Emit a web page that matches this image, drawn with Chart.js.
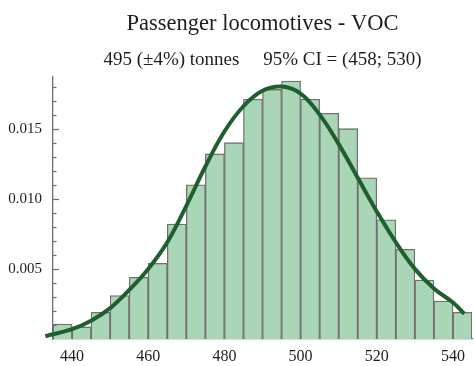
<!DOCTYPE html>
<html>
<head>
<meta charset="utf-8">
<script src="https://cdn.jsdelivr.net/npm/chart.js@4"></script>
<style>
  html, body { margin: 0; padding: 0; background: #fff; }
  #wrap { width: 474px; height: 366px; }
</style>
</head>
<body>
<div id="wrap"><canvas id="histChart"></canvas></div>
<script>
// histogram bins (centres, tonnes) and their densities
const binCenters = [437.5, 442.5, 447.5, 452.5, 457.5, 462.5, 467.5, 472.5, 477.5, 482.5, 487.5,
                    492.5, 497.5, 502.5, 507.5, 512.5, 517.5, 522.5, 527.5, 532.5, 537.5, 542.5];
const density = [0.00107, 0.00086, 0.0019, 0.0031, 0.0044, 0.0054, 0.0082, 0.0110, 0.0132, 0.0140, 0.0171,
                 0.0178, 0.0184, 0.0171, 0.0161, 0.0150, 0.0115, 0.0085, 0.0064, 0.0042, 0.0027, 0.0019];

// fitted distribution curve
const curveX = [433, 440, 445, 450, 455, 460, 465, 470, 475, 480, 485, 490,
                495, 500, 505, 510, 515, 520, 525, 530, 535, 540, 543];
const curveY = [0.0002, 0.0007, 0.0013, 0.0022, 0.0035, 0.0050, 0.0069, 0.0095, 0.0123, 0.0148, 0.0166, 0.0177,
                0.0180, 0.0175, 0.0160, 0.0139, 0.0115, 0.0091, 0.0069, 0.0050, 0.0036, 0.0026, 0.0018];

const xTicks = [440, 460, 480, 500, 520, 540];
const yTicks = [0.005, 0.010, 0.015];
const yMinorTicks = [0.001, 0.002, 0.003, 0.004, 0.006, 0.007, 0.008, 0.009,
                     0.011, 0.012, 0.013, 0.014, 0.016, 0.017, 0.018];

const titleText = 'Passenger locomotives - VOC';
const subtitleText = '495 (\u00b14%) tonnes\u2003 95% CI = (458; 530)';

const serif = '"Liberation Serif", "DejaVu Serif", serif';
const textColor = '#1e1e1e';
const axisColor = '#6f6f6f';

// inward tick marks on the y axis
const innerTicks = {
    id: 'innerTicks',
    afterDraw(chart) {
        const y = chart.scales.y;
        const left = chart.chartArea.left;
        const ctx = chart.ctx;
        ctx.save();
        ctx.strokeStyle = axisColor;
        ctx.lineWidth = 1.2;
        const mark = (v, len) => {
            const py = Math.round(y.getPixelForValue(v)) + 0.5;
            ctx.beginPath();
            ctx.moveTo(left, py);
            ctx.lineTo(left + len, py);
            ctx.stroke();
        };
        yTicks.forEach(v => mark(v, 6));
        yMinorTicks.forEach(v => mark(v, 3.5));
        ctx.restore();
    }
};

document.addEventListener('DOMContentLoaded', () => {
    new Chart(document.getElementById('histChart'), {
        data: {
            datasets: [{
                type: 'line',
                data: curveX.map((x, i) => ({ x: x, y: curveY[i] })),
                borderColor: '#1f5f2e',
                borderWidth: 4,
                pointRadius: 0,
                tension: 0.4,
                clip: false,
                order: 0,
            }, {
                type: 'bar',
                data: binCenters.map((x, i) => ({ x: x, y: density[i] })),
                backgroundColor: '#a9d6b6',
                borderColor: '#707070',
                borderWidth: 1.3,
                barPercentage: 1,
                categoryPercentage: 1,
                order: 1,
            }],
        },
        options: {
            responsive: true,
            maintainAspectRatio: false,
            animation: false,
            events: [],
            layout: { padding: { left: 0, right: 2, top: 0, bottom: 0 } },
            plugins: {
                legend: { display: false },
                tooltip: { enabled: false },
                title: {
                    display: true,
                    text: titleText,
                    fullSize: false,
                    color: textColor,
                    font: { family: serif, size: 22.5, weight: 'normal', lineHeight: 1.2 },
                    padding: { top: 11, bottom: 0 },
                },
                subtitle: {
                    display: true,
                    text: subtitleText,
                    fullSize: false,
                    color: textColor,
                    font: { family: serif, size: 19, weight: 'normal', lineHeight: 1.2 },
                    padding: { top: 11, bottom: 5 },
                },
            },
            scales: {
                x: {
                    type: 'linear',
                    offset: false,
                    min: 435,
                    max: 545,
                    afterBuildTicks: s => { s.ticks = xTicks.map(v => ({ value: v })); },
                    afterFit: s => { s.height = 27; },
                    grid: { display: false, drawTicks: false },
                    border: { display: true, color: axisColor, width: 1.3 },
                    ticks: {
                        color: textColor,
                        padding: 8,
                        maxRotation: 0,
                        font: { family: serif, size: 16 },
                    },
                },
                y: {
                    min: 0,
                    max: 0.0187,
                    afterBuildTicks: s => { s.ticks = yTicks.map(v => ({ value: v })); },
                    afterFit: s => { s.width = 53; },
                    grid: { display: false, drawTicks: false },
                    border: { display: true, color: axisColor, width: 1.3 },
                    ticks: {
                        color: textColor,
                        padding: 11,
                        font: { family: serif, size: 15 },
                        callback: v => v.toFixed(3),
                    },
                },
            },
        },
        plugins: [innerTicks],
    });
});
</script>
</body>
</html>
